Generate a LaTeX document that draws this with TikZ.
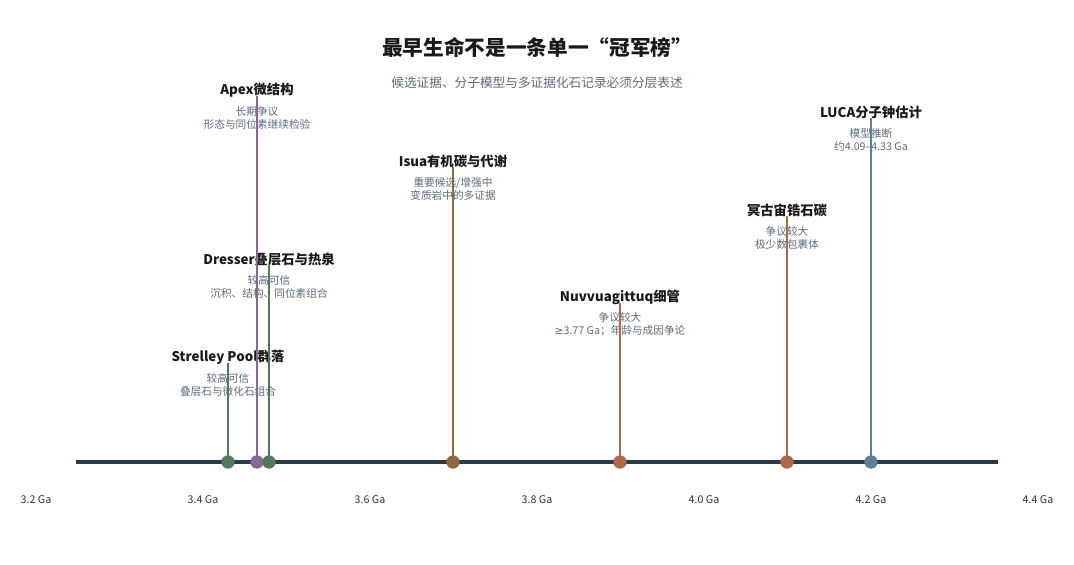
\documentclass[tikz,border=0pt]{standalone}
\usepackage{fontspec}
\setmainfont{Noto Sans CJK SC}
\newfontfamily\mathsymfont{DejaVu Sans}
\usepackage{xcolor}
\usetikzlibrary{positioning}

\definecolor{axisdark}{HTML}{2C3A45}
\definecolor{notegray}{HTML}{5B6B7A}
\definecolor{cgreen}{HTML}{4F7A57}
\definecolor{cpurple}{HTML}{8A6896}
\definecolor{cbrown}{HTML}{8A6A3E}
\definecolor{crust}{HTML}{B0674A}
\definecolor{cslate}{HTML}{5E7F96}

\tikzset{
  dot/.style={circle, inner sep=0pt, minimum size=10pt},
  stem/.style={line width=1pt},
  evtitle/.style={font=\fontsize{10}{12}\selectfont\bfseries, text=black!90, inner sep=0pt},
  evnote/.style={font=\fontsize{8}{9.75}\selectfont, text=notegray, align=center, inner sep=0pt},
  ticklabel/.style={font=\fontsize{8}{10}\selectfont, text=black!80, inner sep=0pt}
}

\begin{document}
\begin{tikzpicture}[x=0.75pt, y=-0.75pt]
        \useasboundingbox (0,0) rectangle (1074,564);

        % heading
        \node[font=\fontsize{15.5}{18}\selectfont\bfseries, text=black!90] (title) at (537,47) {最早生命不是一条单一“冠军榜”};
        \node[font=\fontsize{9.5}{12}\selectfont, text=notegray] (subtitle) at (537,83) {候选证据、分子模型与多证据化石记录必须分层表述};

        % time axis
        \coordinate (axis start) at (76,462);
        \coordinate (axis end) at (998,462);
        \draw[axisdark, line width=3pt] (axis start) -- (axis end);
        \foreach \t/\x in {3.2/36, 3.4/203, 3.6/370, 3.8/537, 4.0/704, 4.2/871, 4.4/1038}
          \node[ticklabel] (tick \t) at (\x,500) {\t\ Ga};

        % events on the axis
        \coordinate (strelley) at (228,462);
        \coordinate (apex) at (257,462);
        \coordinate (dresser) at (269,462);
        \coordinate (isua) at (453,462);
        \coordinate (nuvvu) at (620,462);
        \coordinate (hadean) at (787,462);
        \coordinate (luca) at (871,462);

        % labels
        \node[evtitle] (apex title) at (257,90) {Apex微结构};
        \node[evnote] (apex note) at (257,117.5) {长期争议\\形态与同位素继续检验};
        \node[evtitle] (isua title) at (453,161) {Isua有机碳与代谢};
        \node[evnote] (isua note) at (453,188.5) {重要候选/增强中\\变质岩中的多证据};
        \node[evtitle] (dresser title) at (269,259) {Dresser叠层石与热泉};
        \node[evnote] (dresser note) at (269,286.5) {较高可信\\沉积、结构、同位素组合};
        \node[evtitle] (strelley title) at (228,357) {Strelley Pool群落};
        \node[evnote] (strelley note) at (228,384.5) {较高可信\\叠层石与微化石组合};
        \node[evtitle] (nuvvu title) at (620,297) {Nuvvuagittuq细管};
        \node[evnote] (nuvvu note) at (620,324.5) {争议较大\\{\mathsymfont ≥}3.77 Ga；年龄与成因争论};
        \node[evtitle] (hadean title) at (787,210) {冥古宙锆石碳};
        \node[evnote] (hadean note) at (787,237.5) {争议较大\\极少数包裹体};
        \node[evtitle] (luca title) at (871,112) {LUCA分子钟估计};
        \node[evnote] (luca note) at (871,139.5) {模型推断\\约4.09–4.33 Ga};

        % stems
        \coordinate (strelley top) at (228,363);
        \coordinate (apex top) at (257,96);
        \coordinate (dresser top) at (269,265);
        \coordinate (isua top) at (453,167);
        \coordinate (nuvvu top) at (620,303);
        \coordinate (hadean top) at (787,216);
        \coordinate (luca top) at (871,118);
        \draw[stem, cgreen] (strelley top) -- (strelley);
        \draw[stem, cpurple] (apex top) -- (apex);
        \draw[stem, cgreen] (dresser top) -- (dresser);
        \draw[stem, cbrown] (isua top) -- (isua);
        \draw[stem, crust] (nuvvu top) -- (nuvvu);
        \draw[stem, crust] (hadean top) -- (hadean);
        \draw[stem, cslate] (luca top) -- (luca);

        % markers
        \node[dot, fill=cgreen] (strelley dot) at (strelley) {};
        \node[dot, fill=cpurple] (apex dot) at (apex) {};
        \node[dot, fill=cgreen] (dresser dot) at (dresser) {};
        \node[dot, fill=cbrown] (isua dot) at (isua) {};
        \node[dot, fill=crust] (nuvvu dot) at (nuvvu) {};
        \node[dot, fill=crust] (hadean dot) at (hadean) {};
        \node[dot, fill=cslate] (luca dot) at (luca) {};
      \end{tikzpicture}
\end{document}
